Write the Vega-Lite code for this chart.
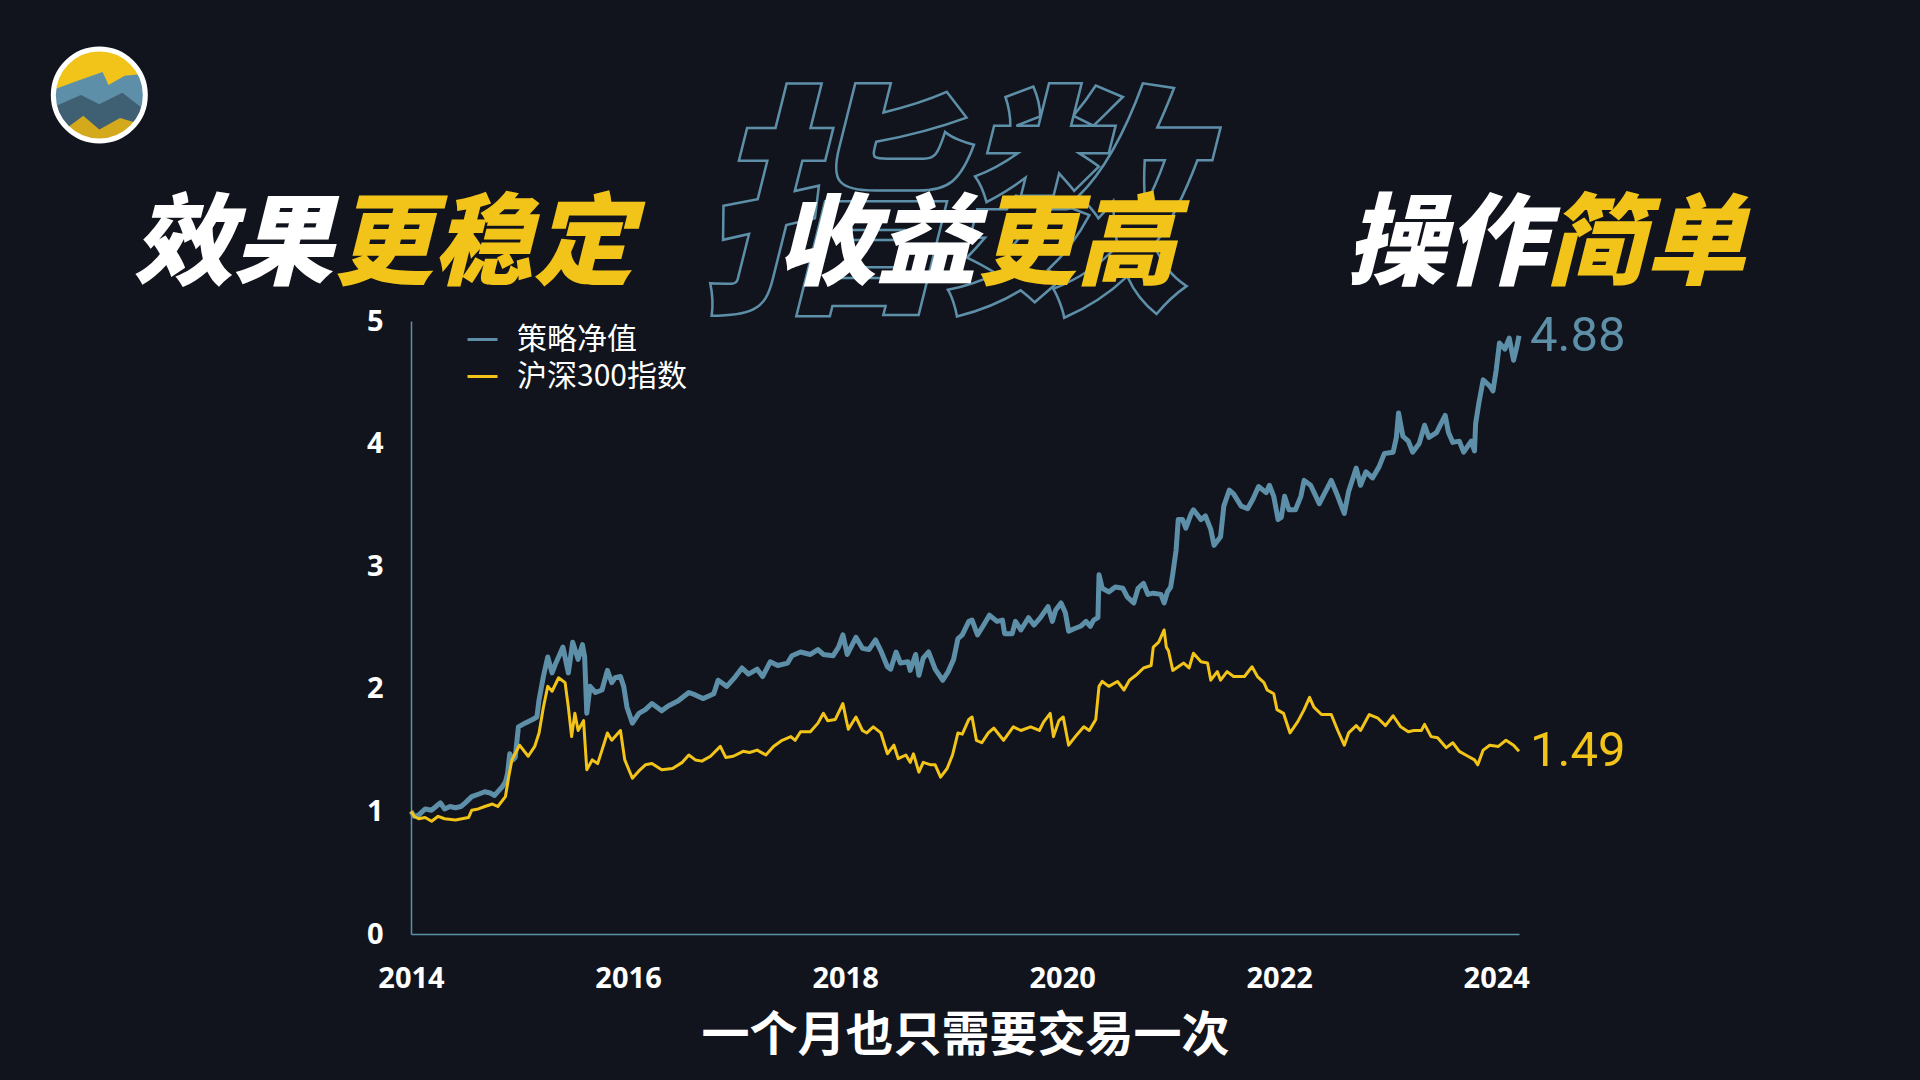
{
  "$schema": "https://vega.github.io/schema/vega-lite/v6.json",
  "width": 1108,
  "height": 613,
  "autosize": {"type": "none"},
  "padding": {"left": 411, "top": 321, "right": 401, "bottom": 146},
  "background": "#11141c",
  "config": {
    "view": {"stroke": null},
    "font": "Noto Sans CJK SC"
  },
  "datasets": {
    "logo": [{"year": 2011.128, "value": 6.843}],
    "deco": [{"year": 2018.9, "value": 5.835, "text": "指数"}],
    "heads": [
      {"year": 2013.281, "value": 5.604, "text": "效果", "tone": "white"},
      {"year": 2013.281, "value": 5.604, "text": "更稳定", "tone": "yellow"},
      {"year": 2019.209, "value": 5.604, "text": "收益", "tone": "white"},
      {"year": 2019.209, "value": 5.604, "text": "更高", "tone": "yellow"},
      {"year": 2024.454, "value": 5.604, "text": "操作", "tone": "white"},
      {"year": 2024.454, "value": 5.604, "text": "简单", "tone": "yellow"}
    ],
    "nav": [
      {"series":"策略净值","year":2014.00,"value":1.00},
      {"series":"策略净值","year":2014.03,"value":0.96},
      {"series":"策略净值","year":2014.07,"value":0.97},
      {"series":"策略净值","year":2014.13,"value":1.02},
      {"series":"策略净值","year":2014.19,"value":1.01},
      {"series":"策略净值","year":2014.23,"value":1.04},
      {"series":"策略净值","year":2014.27,"value":1.07},
      {"series":"策略净值","year":2014.31,"value":1.02},
      {"series":"策略净值","year":2014.36,"value":1.04},
      {"series":"策略净值","year":2014.41,"value":1.03},
      {"series":"策略净值","year":2014.46,"value":1.04},
      {"series":"策略净值","year":2014.50,"value":1.07},
      {"series":"策略净值","year":2014.56,"value":1.12},
      {"series":"策略净值","year":2014.62,"value":1.14},
      {"series":"策略净值","year":2014.68,"value":1.16},
      {"series":"策略净值","year":2014.73,"value":1.15},
      {"series":"策略净值","year":2014.77,"value":1.13},
      {"series":"策略净值","year":2014.84,"value":1.20},
      {"series":"策略净值","year":2014.87,"value":1.24},
      {"series":"策略净值","year":2014.89,"value":1.31},
      {"series":"策略净值","year":2014.91,"value":1.47},
      {"series":"策略净值","year":2014.94,"value":1.42},
      {"series":"策略净值","year":2014.96,"value":1.44},
      {"series":"策略净值","year":2014.99,"value":1.69},
      {"series":"策略净值","year":2015.05,"value":1.72},
      {"series":"策略净值","year":2015.12,"value":1.75},
      {"series":"策略净值","year":2015.16,"value":1.77},
      {"series":"策略净值","year":2015.18,"value":1.91},
      {"series":"策略净值","year":2015.22,"value":2.10},
      {"series":"策略净值","year":2015.26,"value":2.26},
      {"series":"策略净值","year":2015.30,"value":2.13},
      {"series":"策略净值","year":2015.33,"value":2.20},
      {"series":"策略净值","year":2015.36,"value":2.26},
      {"series":"策略净值","year":2015.40,"value":2.34},
      {"series":"策略净值","year":2015.45,"value":2.13},
      {"series":"策略净值","year":2015.49,"value":2.38},
      {"series":"策略净值","year":2015.54,"value":2.24},
      {"series":"策略净值","year":2015.58,"value":2.36},
      {"series":"策略净值","year":2015.60,"value":2.26},
      {"series":"策略净值","year":2015.62,"value":1.80},
      {"series":"策略净值","year":2015.65,"value":2.02},
      {"series":"策略净值","year":2015.70,"value":1.97},
      {"series":"策略净值","year":2015.76,"value":1.99},
      {"series":"策略净值","year":2015.81,"value":2.15},
      {"series":"策略净值","year":2015.85,"value":2.05},
      {"series":"策略净值","year":2015.88,"value":2.09},
      {"series":"策略净值","year":2015.93,"value":2.10},
      {"series":"策略净值","year":2015.96,"value":2.02},
      {"series":"策略净值","year":2015.99,"value":1.85},
      {"series":"策略净值","year":2016.04,"value":1.72},
      {"series":"策略净值","year":2016.10,"value":1.80},
      {"series":"策略净值","year":2016.16,"value":1.83},
      {"series":"策略净值","year":2016.22,"value":1.88},
      {"series":"策略净值","year":2016.31,"value":1.82},
      {"series":"策略净值","year":2016.37,"value":1.86},
      {"series":"策略净值","year":2016.46,"value":1.90},
      {"series":"策略净值","year":2016.56,"value":1.97},
      {"series":"策略净值","year":2016.62,"value":1.95},
      {"series":"策略净值","year":2016.69,"value":1.92},
      {"series":"策略净值","year":2016.74,"value":1.94},
      {"series":"策略净值","year":2016.79,"value":1.96},
      {"series":"策略净值","year":2016.83,"value":2.07},
      {"series":"策略净值","year":2016.91,"value":2.02},
      {"series":"策略净值","year":2016.99,"value":2.10},
      {"series":"策略净值","year":2017.05,"value":2.17},
      {"series":"策略净值","year":2017.11,"value":2.12},
      {"series":"策略净值","year":2017.19,"value":2.16},
      {"series":"策略净值","year":2017.24,"value":2.10},
      {"series":"策略净值","year":2017.31,"value":2.22},
      {"series":"策略净值","year":2017.38,"value":2.19},
      {"series":"策略净值","year":2017.47,"value":2.21},
      {"series":"策略净值","year":2017.51,"value":2.27},
      {"series":"策略净值","year":2017.59,"value":2.30},
      {"series":"策略净值","year":2017.68,"value":2.28},
      {"series":"策略净值","year":2017.75,"value":2.32},
      {"series":"策略净值","year":2017.80,"value":2.28},
      {"series":"策略净值","year":2017.89,"value":2.27},
      {"series":"策略净值","year":2017.94,"value":2.34},
      {"series":"策略净值","year":2017.98,"value":2.44},
      {"series":"策略净值","year":2018.02,"value":2.28},
      {"series":"策略净值","year":2018.10,"value":2.42},
      {"series":"策略净值","year":2018.16,"value":2.33},
      {"series":"策略净值","year":2018.22,"value":2.32},
      {"series":"策略净值","year":2018.28,"value":2.40},
      {"series":"策略净值","year":2018.33,"value":2.31},
      {"series":"策略净值","year":2018.39,"value":2.18},
      {"series":"策略净值","year":2018.42,"value":2.16},
      {"series":"策略净值","year":2018.47,"value":2.30},
      {"series":"策略净值","year":2018.51,"value":2.21},
      {"series":"策略净值","year":2018.58,"value":2.22},
      {"series":"策略净值","year":2018.60,"value":2.15},
      {"series":"策略净值","year":2018.65,"value":2.28},
      {"series":"策略净值","year":2018.68,"value":2.11},
      {"series":"策略净值","year":2018.72,"value":2.25},
      {"series":"策略净值","year":2018.77,"value":2.30},
      {"series":"策略净值","year":2018.83,"value":2.16},
      {"series":"策略净值","year":2018.90,"value":2.07},
      {"series":"策略净值","year":2018.95,"value":2.14},
      {"series":"策略净值","year":2019.00,"value":2.24},
      {"series":"策略净值","year":2019.04,"value":2.41},
      {"series":"策略净值","year":2019.08,"value":2.44},
      {"series":"策略净值","year":2019.14,"value":2.55},
      {"series":"策略净值","year":2019.17,"value":2.56},
      {"series":"策略净值","year":2019.22,"value":2.44},
      {"series":"策略净值","year":2019.27,"value":2.51},
      {"series":"策略净值","year":2019.33,"value":2.60},
      {"series":"策略净值","year":2019.40,"value":2.55},
      {"series":"策略净值","year":2019.45,"value":2.56},
      {"series":"策略净值","year":2019.47,"value":2.45},
      {"series":"策略净值","year":2019.54,"value":2.45},
      {"series":"策略净值","year":2019.57,"value":2.55},
      {"series":"策略净值","year":2019.62,"value":2.48},
      {"series":"策略净值","year":2019.69,"value":2.58},
      {"series":"策略净值","year":2019.74,"value":2.52},
      {"series":"策略净值","year":2019.80,"value":2.58},
      {"series":"策略净值","year":2019.87,"value":2.67},
      {"series":"策略净值","year":2019.91,"value":2.55},
      {"series":"策略净值","year":2019.94,"value":2.64},
      {"series":"策略净值","year":2019.99,"value":2.70},
      {"series":"策略净值","year":2020.03,"value":2.62},
      {"series":"策略净值","year":2020.06,"value":2.47},
      {"series":"策略净值","year":2020.11,"value":2.49},
      {"series":"策略净值","year":2020.17,"value":2.51},
      {"series":"策略净值","year":2020.22,"value":2.55},
      {"series":"策略净值","year":2020.26,"value":2.51},
      {"series":"策略净值","year":2020.29,"value":2.56},
      {"series":"策略净值","year":2020.33,"value":2.58},
      {"series":"策略净值","year":2020.34,"value":2.93},
      {"series":"策略净值","year":2020.37,"value":2.82},
      {"series":"策略净值","year":2020.43,"value":2.79},
      {"series":"策略净值","year":2020.49,"value":2.83},
      {"series":"策略净值","year":2020.56,"value":2.82},
      {"series":"策略净值","year":2020.60,"value":2.75},
      {"series":"策略净值","year":2020.66,"value":2.70},
      {"series":"策略净值","year":2020.70,"value":2.82},
      {"series":"策略净值","year":2020.75,"value":2.86},
      {"series":"策略净值","year":2020.79,"value":2.77},
      {"series":"策略净值","year":2020.84,"value":2.78},
      {"series":"策略净值","year":2020.91,"value":2.77},
      {"series":"策略净值","year":2020.94,"value":2.70},
      {"series":"策略净值","year":2020.97,"value":2.79},
      {"series":"策略净值","year":2021.00,"value":2.83},
      {"series":"策略净值","year":2021.02,"value":2.94},
      {"series":"策略净值","year":2021.05,"value":3.13},
      {"series":"策略净值","year":2021.07,"value":3.38},
      {"series":"策略净值","year":2021.11,"value":3.38},
      {"series":"策略净值","year":2021.14,"value":3.31},
      {"series":"策略净值","year":2021.19,"value":3.43},
      {"series":"策略净值","year":2021.21,"value":3.46},
      {"series":"策略净值","year":2021.28,"value":3.38},
      {"series":"策略净值","year":2021.32,"value":3.41},
      {"series":"策略净值","year":2021.37,"value":3.30},
      {"series":"策略净值","year":2021.40,"value":3.17},
      {"series":"策略净值","year":2021.46,"value":3.24},
      {"series":"策略净值","year":2021.49,"value":3.49},
      {"series":"策略净值","year":2021.54,"value":3.62},
      {"series":"策略净值","year":2021.58,"value":3.59},
      {"series":"策略净值","year":2021.65,"value":3.49},
      {"series":"策略净值","year":2021.71,"value":3.47},
      {"series":"策略净值","year":2021.76,"value":3.55},
      {"series":"策略净值","year":2021.81,"value":3.65},
      {"series":"策略净值","year":2021.88,"value":3.60},
      {"series":"策略净值","year":2021.91,"value":3.66},
      {"series":"策略净值","year":2021.95,"value":3.57},
      {"series":"策略净值","year":2021.99,"value":3.38},
      {"series":"策略净值","year":2022.02,"value":3.40},
      {"series":"策略净值","year":2022.05,"value":3.57},
      {"series":"策略净值","year":2022.09,"value":3.46},
      {"series":"策略净值","year":2022.15,"value":3.46},
      {"series":"策略净值","year":2022.20,"value":3.57},
      {"series":"策略净值","year":2022.23,"value":3.70},
      {"series":"策略净值","year":2022.29,"value":3.66},
      {"series":"策略净值","year":2022.37,"value":3.51},
      {"series":"策略净值","year":2022.41,"value":3.58},
      {"series":"策略净值","year":2022.48,"value":3.70},
      {"series":"策略净值","year":2022.54,"value":3.57},
      {"series":"策略净值","year":2022.60,"value":3.43},
      {"series":"策略净值","year":2022.64,"value":3.61},
      {"series":"策略净值","year":2022.71,"value":3.80},
      {"series":"策略净值","year":2022.75,"value":3.66},
      {"series":"策略净值","year":2022.80,"value":3.77},
      {"series":"策略净值","year":2022.86,"value":3.72},
      {"series":"策略净值","year":2022.92,"value":3.81},
      {"series":"策略净值","year":2022.97,"value":3.92},
      {"series":"策略净值","year":2023.05,"value":3.93},
      {"series":"策略净值","year":2023.08,"value":4.05},
      {"series":"策略净值","year":2023.10,"value":4.25},
      {"series":"策略净值","year":2023.14,"value":4.06},
      {"series":"策略净值","year":2023.19,"value":4.02},
      {"series":"策略净值","year":2023.23,"value":3.93},
      {"series":"策略净值","year":2023.29,"value":4.00},
      {"series":"策略净值","year":2023.34,"value":4.15},
      {"series":"策略净值","year":2023.38,"value":4.05},
      {"series":"策略净值","year":2023.45,"value":4.09},
      {"series":"策略净值","year":2023.49,"value":4.16},
      {"series":"策略净值","year":2023.53,"value":4.23},
      {"series":"策略净值","year":2023.56,"value":4.09},
      {"series":"策略净值","year":2023.60,"value":4.01},
      {"series":"策略净值","year":2023.66,"value":4.02},
      {"series":"策略净值","year":2023.70,"value":3.93},
      {"series":"策略净值","year":2023.77,"value":4.02},
      {"series":"策略净值","year":2023.80,"value":3.94},
      {"series":"策略净值","year":2023.81,"value":4.16},
      {"series":"策略净值","year":2023.84,"value":4.33},
      {"series":"策略净值","year":2023.88,"value":4.52},
      {"series":"策略净值","year":2023.94,"value":4.47},
      {"series":"策略净值","year":2023.97,"value":4.43},
      {"series":"策略净值","year":2024.00,"value":4.60},
      {"series":"策略净值","year":2024.03,"value":4.82},
      {"series":"策略净值","year":2024.08,"value":4.77},
      {"series":"策略净值","year":2024.12,"value":4.86},
      {"series":"策略净值","year":2024.16,"value":4.68},
      {"series":"策略净值","year":2024.19,"value":4.79},
      {"series":"策略净值","year":2024.21,"value":4.88},
      {"series":"沪深300指数","year":2014.00,"value":1.00},
      {"series":"沪深300指数","year":2014.03,"value":0.96},
      {"series":"沪深300指数","year":2014.07,"value":0.94},
      {"series":"沪深300指数","year":2014.13,"value":0.95},
      {"series":"沪深300指数","year":2014.19,"value":0.92},
      {"series":"沪深300指数","year":2014.25,"value":0.96},
      {"series":"沪深300指数","year":2014.31,"value":0.94},
      {"series":"沪深300指数","year":2014.41,"value":0.93},
      {"series":"沪深300指数","year":2014.53,"value":0.95},
      {"series":"沪深300指数","year":2014.56,"value":1.01},
      {"series":"沪深300指数","year":2014.62,"value":1.02},
      {"series":"沪深300指数","year":2014.68,"value":1.04},
      {"series":"沪深300指数","year":2014.75,"value":1.06},
      {"series":"沪深300指数","year":2014.80,"value":1.04},
      {"series":"沪深300指数","year":2014.87,"value":1.12},
      {"series":"沪深300指数","year":2014.90,"value":1.28},
      {"series":"沪深300指数","year":2014.93,"value":1.42},
      {"series":"沪深300指数","year":2015.00,"value":1.54},
      {"series":"沪深300指数","year":2015.08,"value":1.45},
      {"series":"沪深300指数","year":2015.14,"value":1.53},
      {"series":"沪深300指数","year":2015.18,"value":1.64},
      {"series":"沪深300指数","year":2015.22,"value":1.85},
      {"series":"沪深300指数","year":2015.26,"value":2.02},
      {"series":"沪深300指数","year":2015.30,"value":1.98},
      {"series":"沪深300指数","year":2015.36,"value":2.09},
      {"series":"沪深300指数","year":2015.42,"value":2.05},
      {"series":"沪深300指数","year":2015.45,"value":1.85},
      {"series":"沪深300指数","year":2015.48,"value":1.61},
      {"series":"沪深300指数","year":2015.51,"value":1.80},
      {"series":"沪深300指数","year":2015.54,"value":1.66},
      {"series":"沪深300指数","year":2015.59,"value":1.74},
      {"series":"沪深300指数","year":2015.62,"value":1.34},
      {"series":"沪深300指数","year":2015.67,"value":1.42},
      {"series":"沪深300指数","year":2015.72,"value":1.39},
      {"series":"沪深300指数","year":2015.76,"value":1.50},
      {"series":"沪深300指数","year":2015.81,"value":1.64},
      {"series":"沪深300指数","year":2015.85,"value":1.58},
      {"series":"沪深300指数","year":2015.93,"value":1.66},
      {"series":"沪深300指数","year":2015.97,"value":1.42},
      {"series":"沪深300指数","year":2016.04,"value":1.27},
      {"series":"沪深300指数","year":2016.10,"value":1.33},
      {"series":"沪深300指数","year":2016.16,"value":1.38},
      {"series":"沪深300指数","year":2016.22,"value":1.39},
      {"series":"沪深300指数","year":2016.31,"value":1.34},
      {"series":"沪深300指数","year":2016.41,"value":1.35},
      {"series":"沪深300指数","year":2016.50,"value":1.40},
      {"series":"沪深300指数","year":2016.56,"value":1.46},
      {"series":"沪深300指数","year":2016.62,"value":1.42},
      {"series":"沪深300指数","year":2016.68,"value":1.41},
      {"series":"沪深300指数","year":2016.76,"value":1.45},
      {"series":"沪深300指数","year":2016.85,"value":1.53},
      {"series":"沪深300指数","year":2016.90,"value":1.44},
      {"series":"沪深300指数","year":2016.97,"value":1.45},
      {"series":"沪深300指数","year":2017.06,"value":1.49},
      {"series":"沪深300指数","year":2017.12,"value":1.48},
      {"series":"沪深300指数","year":2017.19,"value":1.50},
      {"series":"沪深300指数","year":2017.27,"value":1.46},
      {"series":"沪深300指数","year":2017.34,"value":1.53},
      {"series":"沪深300指数","year":2017.42,"value":1.58},
      {"series":"沪深300指数","year":2017.50,"value":1.61},
      {"series":"沪深300指数","year":2017.54,"value":1.58},
      {"series":"沪深300指数","year":2017.59,"value":1.65},
      {"series":"沪深300指数","year":2017.68,"value":1.65},
      {"series":"沪深300指数","year":2017.75,"value":1.72},
      {"series":"沪深300指数","year":2017.80,"value":1.80},
      {"series":"沪深300指数","year":2017.84,"value":1.74},
      {"series":"沪深300指数","year":2017.91,"value":1.75},
      {"series":"沪深300指数","year":2017.98,"value":1.88},
      {"series":"沪深300指数","year":2018.01,"value":1.75},
      {"series":"沪深300指数","year":2018.03,"value":1.67},
      {"series":"沪深300指数","year":2018.10,"value":1.77},
      {"series":"沪深300指数","year":2018.16,"value":1.66},
      {"series":"沪深300指数","year":2018.20,"value":1.64},
      {"series":"沪深300指数","year":2018.26,"value":1.69},
      {"series":"沪深300指数","year":2018.33,"value":1.64},
      {"series":"沪深300指数","year":2018.39,"value":1.47},
      {"series":"沪深300指数","year":2018.45,"value":1.54},
      {"series":"沪深300指数","year":2018.49,"value":1.43},
      {"series":"沪深300指数","year":2018.56,"value":1.46},
      {"series":"沪深300指数","year":2018.60,"value":1.40},
      {"series":"沪深300指数","year":2018.63,"value":1.47},
      {"series":"沪深300指数","year":2018.68,"value":1.32},
      {"series":"沪深300指数","year":2018.72,"value":1.40},
      {"series":"沪深300指数","year":2018.79,"value":1.38},
      {"series":"沪深300指数","year":2018.83,"value":1.38},
      {"series":"沪深300指数","year":2018.88,"value":1.28},
      {"series":"沪深300指数","year":2018.94,"value":1.35},
      {"series":"沪深300指数","year":2018.99,"value":1.46},
      {"series":"沪深300指数","year":2019.04,"value":1.64},
      {"series":"沪深300指数","year":2019.08,"value":1.63},
      {"series":"沪深300指数","year":2019.14,"value":1.75},
      {"series":"沪深300指数","year":2019.17,"value":1.77},
      {"series":"沪深300指数","year":2019.21,"value":1.58},
      {"series":"沪深300指数","year":2019.26,"value":1.56},
      {"series":"沪深300指数","year":2019.32,"value":1.64},
      {"series":"沪深300指数","year":2019.37,"value":1.68},
      {"series":"沪深300指数","year":2019.46,"value":1.58},
      {"series":"沪深300指数","year":2019.55,"value":1.69},
      {"series":"沪深300指数","year":2019.62,"value":1.66},
      {"series":"沪深300指数","year":2019.71,"value":1.69},
      {"series":"沪深300指数","year":2019.79,"value":1.66},
      {"series":"沪深300指数","year":2019.83,"value":1.73},
      {"series":"沪深300指数","year":2019.89,"value":1.80},
      {"series":"沪深300指数","year":2019.92,"value":1.61},
      {"series":"沪深300指数","year":2019.97,"value":1.74},
      {"series":"沪深300指数","year":2020.01,"value":1.77},
      {"series":"沪深300指数","year":2020.06,"value":1.54},
      {"series":"沪深300指数","year":2020.14,"value":1.63},
      {"series":"沪深300指数","year":2020.20,"value":1.69},
      {"series":"沪深300指数","year":2020.25,"value":1.66},
      {"series":"沪深300指数","year":2020.31,"value":1.75},
      {"series":"沪深300指数","year":2020.34,"value":2.02},
      {"series":"沪深300指数","year":2020.37,"value":2.06},
      {"series":"沪深300指数","year":2020.43,"value":2.02},
      {"series":"沪深300指数","year":2020.51,"value":2.06},
      {"series":"沪深300指数","year":2020.57,"value":1.99},
      {"series":"沪深300指数","year":2020.62,"value":2.07},
      {"series":"沪深300指数","year":2020.68,"value":2.11},
      {"series":"沪深300指数","year":2020.75,"value":2.17},
      {"series":"沪深300指数","year":2020.82,"value":2.19},
      {"series":"沪深300指数","year":2020.84,"value":2.34},
      {"series":"沪深300指数","year":2020.89,"value":2.38},
      {"series":"沪深300指数","year":2020.94,"value":2.48},
      {"series":"沪深300指数","year":2020.96,"value":2.34},
      {"series":"沪深300指数","year":2020.98,"value":2.31},
      {"series":"沪深300指数","year":2021.02,"value":2.15},
      {"series":"沪深300指数","year":2021.07,"value":2.18},
      {"series":"沪深300指数","year":2021.12,"value":2.21},
      {"series":"沪深300指数","year":2021.17,"value":2.17},
      {"series":"沪深300指数","year":2021.21,"value":2.29},
      {"series":"沪深300指数","year":2021.28,"value":2.22},
      {"series":"沪深300指数","year":2021.34,"value":2.21},
      {"series":"沪深300指数","year":2021.37,"value":2.07},
      {"series":"沪深300指数","year":2021.43,"value":2.14},
      {"series":"沪深300指数","year":2021.46,"value":2.07},
      {"series":"沪深300指数","year":2021.52,"value":2.14},
      {"series":"沪深300指数","year":2021.58,"value":2.10},
      {"series":"沪深300指数","year":2021.68,"value":2.10},
      {"series":"沪深300指数","year":2021.75,"value":2.18},
      {"series":"沪深300指数","year":2021.80,"value":2.10},
      {"series":"沪深300指数","year":2021.86,"value":2.05},
      {"series":"沪深300指数","year":2021.89,"value":1.99},
      {"series":"沪深300指数","year":2021.95,"value":1.96},
      {"series":"沪深300指数","year":2021.98,"value":1.83},
      {"series":"沪深300指数","year":2022.04,"value":1.80},
      {"series":"沪深300指数","year":2022.10,"value":1.64},
      {"series":"沪深300指数","year":2022.17,"value":1.73},
      {"series":"沪深300指数","year":2022.23,"value":1.83},
      {"series":"沪深300指数","year":2022.28,"value":1.93},
      {"series":"沪深300指数","year":2022.32,"value":1.85},
      {"series":"沪深300指数","year":2022.39,"value":1.79},
      {"series":"沪深300指数","year":2022.48,"value":1.79},
      {"series":"沪深300指数","year":2022.54,"value":1.66},
      {"series":"沪深300指数","year":2022.60,"value":1.54},
      {"series":"沪深300指数","year":2022.64,"value":1.64},
      {"series":"沪深300指数","year":2022.71,"value":1.70},
      {"series":"沪深300指数","year":2022.75,"value":1.66},
      {"series":"沪深300指数","year":2022.83,"value":1.79},
      {"series":"沪深300指数","year":2022.91,"value":1.76},
      {"series":"沪深300指数","year":2022.98,"value":1.70},
      {"series":"沪深300指数","year":2023.05,"value":1.78},
      {"series":"沪深300指数","year":2023.12,"value":1.69},
      {"series":"沪深300指数","year":2023.19,"value":1.65},
      {"series":"沪深300指数","year":2023.24,"value":1.66},
      {"series":"沪深300指数","year":2023.31,"value":1.66},
      {"series":"沪深300指数","year":2023.34,"value":1.71},
      {"series":"沪深300指数","year":2023.40,"value":1.61},
      {"series":"沪深300指数","year":2023.46,"value":1.60},
      {"series":"沪深300指数","year":2023.54,"value":1.52},
      {"series":"沪深300指数","year":2023.60,"value":1.56},
      {"series":"沪深300指数","year":2023.66,"value":1.49},
      {"series":"沪深300指数","year":2023.74,"value":1.45},
      {"series":"沪深300指数","year":2023.80,"value":1.42},
      {"series":"沪深300指数","year":2023.83,"value":1.38},
      {"series":"沪深300指数","year":2023.88,"value":1.50},
      {"series":"沪深300指数","year":2023.94,"value":1.54},
      {"series":"沪深300指数","year":2024.02,"value":1.53},
      {"series":"沪深300指数","year":2024.09,"value":1.58},
      {"series":"沪深300指数","year":2024.16,"value":1.54},
      {"series":"沪深300指数","year":2024.21,"value":1.49}
    ]
  },
  "encoding": {
    "x": {
      "field": "year",
      "type": "quantitative",
      "scale": {"domain": [2014, 2024.21], "nice": false, "zero": false},
      "axis": {
        "values": [2014, 2016, 2018, 2020, 2022, 2024],
        "format": "d",
        "ticks": false,
        "grid": false,
        "domainColor": "#5e8fa9",
        "domainWidth": 1.5,
        "labelFont": "Noto Sans",
        "labelFontWeight": "bold",
        "labelFontSize": 29,
        "labelColor": "#ffffff",
        "labelPadding": 30,
        "labelFlush": false,
        "labelOverlap": false,
        "title": "一个月也只需要交易一次",
        "titleFont": "Noto Sans CJK SC",
        "titleFontSize": 48,
        "titleFontWeight": "bold",
        "titleColor": "#ffffff",
        "titlePadding": 19
      }
    },
    "y": {
      "field": "value",
      "type": "quantitative",
      "scale": {"domain": [0, 5], "nice": false},
      "axis": {
        "values": [0, 1, 2, 3, 4, 5],
        "ticks": false,
        "grid": false,
        "domainColor": "#5e8fa9",
        "domainWidth": 1.5,
        "labelFont": "Noto Sans",
        "labelFontWeight": "bold",
        "labelFontSize": 29,
        "labelColor": "#ffffff",
        "labelPadding": 28,
        "labelOverlap": false,
        "title": null
      }
    }
  },
  "layer": [
    {
      "data": {"name": "logo"},
      "mark": {"type": "point", "shape": "circle", "filled": true, "size": 8464, "color": "#f2c318", "opacity": 1, "strokeWidth": 0}
    },
    {
      "data": {"name": "logo"},
      "mark": {"type": "point", "shape": "M-0.99,-0.12 L-0.5,-0.3 L0.07,-0.5 L0.2,-0.22 L0.55,-0.42 L0.89,-0.45 A1,1 0 1,1 -0.99,-0.12 Z", "filled": true, "size": 8464, "color": "#5e8fa9", "opacity": 1, "strokeWidth": 0}
    },
    {
      "data": {"name": "logo"},
      "mark": {"type": "point", "shape": "M-0.97,0.25 L-0.4,0.0 L0.0,0.2 L0.5,-0.05 L0.95,0.3 A1,1 0 0,1 -0.97,0.25 Z", "filled": true, "size": 8464, "color": "#3f5f72", "opacity": 1, "strokeWidth": 0}
    },
    {
      "data": {"name": "logo"},
      "mark": {"type": "point", "shape": "M-0.7,0.71 L-0.35,0.45 L0.0,0.75 L0.45,0.5 L0.8,0.6 A1,1 0 0,1 -0.7,0.71 Z", "filled": true, "size": 8464, "color": "#d4a91c", "opacity": 1, "strokeWidth": 0}
    },
    {
      "data": {"name": "logo"},
      "mark": {"type": "point", "shape": "circle", "filled": false, "size": 8464, "stroke": "#ffffff", "strokeWidth": 5, "opacity": 1}
    },
    {
      "data": {"name": "deco"},
      "mark": {"type": "text", "font": "Noto Sans CJK SC", "fontSize": 245, "fontWeight": 900, "fontStyle": "italic", "align": "center", "baseline": "middle", "fill": "transparent", "stroke": "#5e8fa9", "strokeWidth": 2.5},
      "encoding": {"text": {"field": "text"}}
    },
    {
      "data": {"name": "heads"},
      "transform": [{"filter": "datum.tone === 'white'"}],
      "mark": {"type": "text", "font": "Noto Sans CJK SC", "fontSize": 100, "fontWeight": 900, "fontStyle": "italic", "align": "right", "baseline": "middle", "color": "#ffffff"},
      "encoding": {"text": {"field": "text"}}
    },
    {
      "data": {"name": "heads"},
      "transform": [{"filter": "datum.tone === 'yellow'"}],
      "mark": {"type": "text", "font": "Noto Sans CJK SC", "fontSize": 100, "fontWeight": 900, "fontStyle": "italic", "align": "left", "baseline": "middle", "color": "#f2c318"},
      "encoding": {"text": {"field": "text"}}
    },
    {
      "data": {"name": "nav"},
      "transform": [{"filter": "datum.series === '策略净值'"}],
      "mark": {"type": "line", "strokeWidth": 5, "strokeJoin": "round"},
      "encoding": {
        "color": {
          "field": "series",
          "type": "nominal",
          "scale": {"domain": ["策略净值", "沪深300指数"], "range": ["#5e8fa9", "#f2c318"]},
          "legend": {"title": null, "orient": "none", "legendX": 55, "legendY": 2, "symbolType": "stroke", "symbolSize": 900, "symbolStrokeWidth": 3, "labelFont": "Noto Sans CJK SC", "labelFontSize": 30, "labelLimit": 0, "labelColor": "#ffffff", "labelOffset": 18, "rowPadding": 5, "padding": 0}
        }
      }
    },
    {
      "data": {"name": "nav"},
      "transform": [{"filter": "datum.series === '沪深300指数'"}],
      "mark": {"type": "line", "strokeWidth": 3, "strokeJoin": "round"},
      "encoding": {
        "color": {
          "field": "series",
          "type": "nominal",
          "scale": {"domain": ["策略净值", "沪深300指数"], "range": ["#5e8fa9", "#f2c318"]},
          "legend": {"title": null, "orient": "none", "legendX": 55, "legendY": 2, "symbolType": "stroke", "symbolSize": 900, "symbolStrokeWidth": 3, "labelFont": "Noto Sans CJK SC", "labelFontSize": 30, "labelLimit": 0, "labelColor": "#ffffff", "labelOffset": 18, "rowPadding": 5, "padding": 0}
        }
      }
    },
    {
      "data": {"name": "nav"},
      "transform": [{"filter": "datum.year >= 2024.21"}],
      "mark": {"type": "text", "font": "Roboto", "fontSize": 49, "align": "left", "baseline": "middle", "dx": 11},
      "encoding": {
        "text": {"field": "value", "type": "quantitative", "format": ".2f"},
        "color": {
          "field": "series",
          "type": "nominal",
          "scale": {"domain": ["策略净值", "沪深300指数"], "range": ["#5e8fa9", "#f2c318"]},
          "legend": {"title": null, "orient": "none", "legendX": 55, "legendY": 2, "symbolType": "stroke", "symbolSize": 900, "symbolStrokeWidth": 3, "labelFont": "Noto Sans CJK SC", "labelFontSize": 30, "labelLimit": 0, "labelColor": "#ffffff", "labelOffset": 18, "rowPadding": 5, "padding": 0}
        }
      }
    }
  ]
}
